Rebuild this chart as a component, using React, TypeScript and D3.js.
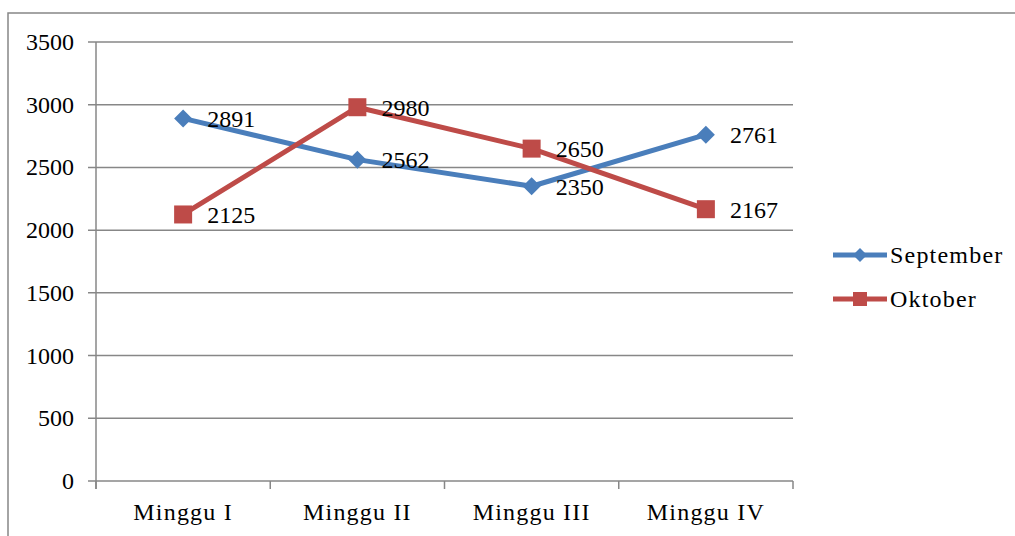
import { useEffect, useRef } from "react"
import * as d3 from "d3"

const categories = ["Minggu I", "Minggu II", "Minggu III", "Minggu IV"]
const september = [2891, 2562, 2350, 2761]
const oktober = [2125, 2980, 2650, 2167]
const yTicks = [0, 500, 1000, 1500, 2000, 2500, 3000, 3500]

const BLUE = "#4a7ebb"
const RED = "#be4b48"
const GRID = "#878787"
const FONT = "'Liberation Serif', serif"
const FS = 24

export default function App() {
  const ref = useRef<SVGSVGElement>(null)

  useEffect(() => {
    const svg = d3.select(ref.current)
    svg.selectAll("*").remove()

    // outer frame
    svg.append("path")
      .attr("d", "M8,540 L8,13 L1020,13")
      .attr("fill", "none")
      .attr("stroke", GRID)
      .attr("stroke-width", 1.5)

    const left = 96, right = 793, top = 42, bottom = 481

    const x = d3.scaleBand().domain(categories).range([left, right])
    const y = d3.scaleLinear().domain([0, 3500]).range([bottom, top])

    const g = svg.append("g")

    // gridlines + y ticks
    yTicks.forEach(t => {
      g.append("line")
        .attr("x1", left - 8).attr("x2", right)
        .attr("y1", y(t)).attr("y2", y(t))
        .attr("stroke", GRID).attr("stroke-width", 1.5)
      g.append("text")
        .attr("x", 74).attr("y", y(t) + 8)
        .attr("text-anchor", "end")
        .attr("font-family", FONT).attr("font-size", FS)
        .text(t)
    })

    // y axis line
    g.append("line")
      .attr("x1", left).attr("x2", left)
      .attr("y1", top).attr("y2", bottom + 8)
      .attr("stroke", GRID).attr("stroke-width", 1.5)

    // x ticks
    const edges = categories.map(c => x(c)!).concat([right])
    edges.forEach(e => {
      g.append("line")
        .attr("x1", e).attr("x2", e)
        .attr("y1", bottom).attr("y2", bottom + 8)
        .attr("stroke", GRID).attr("stroke-width", 1.5)
    })

    categories.forEach(c => {
      g.append("text")
        .attr("x", x(c)! + x.bandwidth() / 2).attr("y", 520)
        .attr("text-anchor", "middle")
        .attr("font-family", FONT).attr("font-size", FS)
        .attr("letter-spacing", 1.2)
        .text(c)
    })

    const cx = (i: number) => x(categories[i])! + x.bandwidth() / 2
    const line = d3.line<number>().x((_, i) => cx(i)).y(d => y(d))

    const series = [
      { name: "September", values: september, color: BLUE, shape: "diamond" },
      { name: "Oktober", values: oktober, color: RED, shape: "square" },
    ]

    const drawMarker = (sel: d3.Selection<SVGGElement, unknown, null, undefined>, px: number, py: number, shape: string, color: string, s: number) => {
      if (shape === "diamond") {
        sel.append("path")
          .attr("d", `M${px},${py - s} L${px + s},${py} L${px},${py + s} L${px - s},${py} Z`)
          .attr("fill", color)
      } else {
        sel.append("rect")
          .attr("x", px - s).attr("y", py - s)
          .attr("width", s * 2).attr("height", s * 2)
          .attr("fill", color)
      }
    }

    series.forEach(s => {
      const sg = g.append("g")
      sg.append("path")
        .attr("d", line(s.values))
        .attr("fill", "none")
        .attr("stroke", s.color)
        .attr("stroke-width", 5)
        .attr("stroke-linejoin", "round")
      s.values.forEach((v, i) => {
        drawMarker(sg, cx(i), y(v), s.shape, s.color, 9)
      })
    })

    // data labels
    series.forEach(s => {
      s.values.forEach((v, i) => {
        g.append("text")
          .attr("x", cx(i) + 24).attr("y", y(v) + 8.5)
          .attr("font-family", FONT).attr("font-size", FS)
          .text(v)
      })
    })

    // legend
    series.forEach((s, i) => {
      const ly = 255 + i * 44
      const lg = svg.append("g")
      lg.append("line")
        .attr("x1", 833).attr("x2", 887)
        .attr("y1", ly).attr("y2", ly)
        .attr("stroke", s.color).attr("stroke-width", 5)
      drawMarker(lg, 860, ly, s.shape, s.color, 7)
      lg.append("text")
        .attr("x", 890).attr("y", ly + 8)
        .attr("font-family", FONT).attr("font-size", FS)
        .attr("letter-spacing", 1.2)
        .text(s.name)
    })
  }, [])

  return (
    <svg ref={ref} width={1015} height={536}
      style={{ position: "absolute", left: 0, top: 0, background: "#fff" }} />
  )
}
